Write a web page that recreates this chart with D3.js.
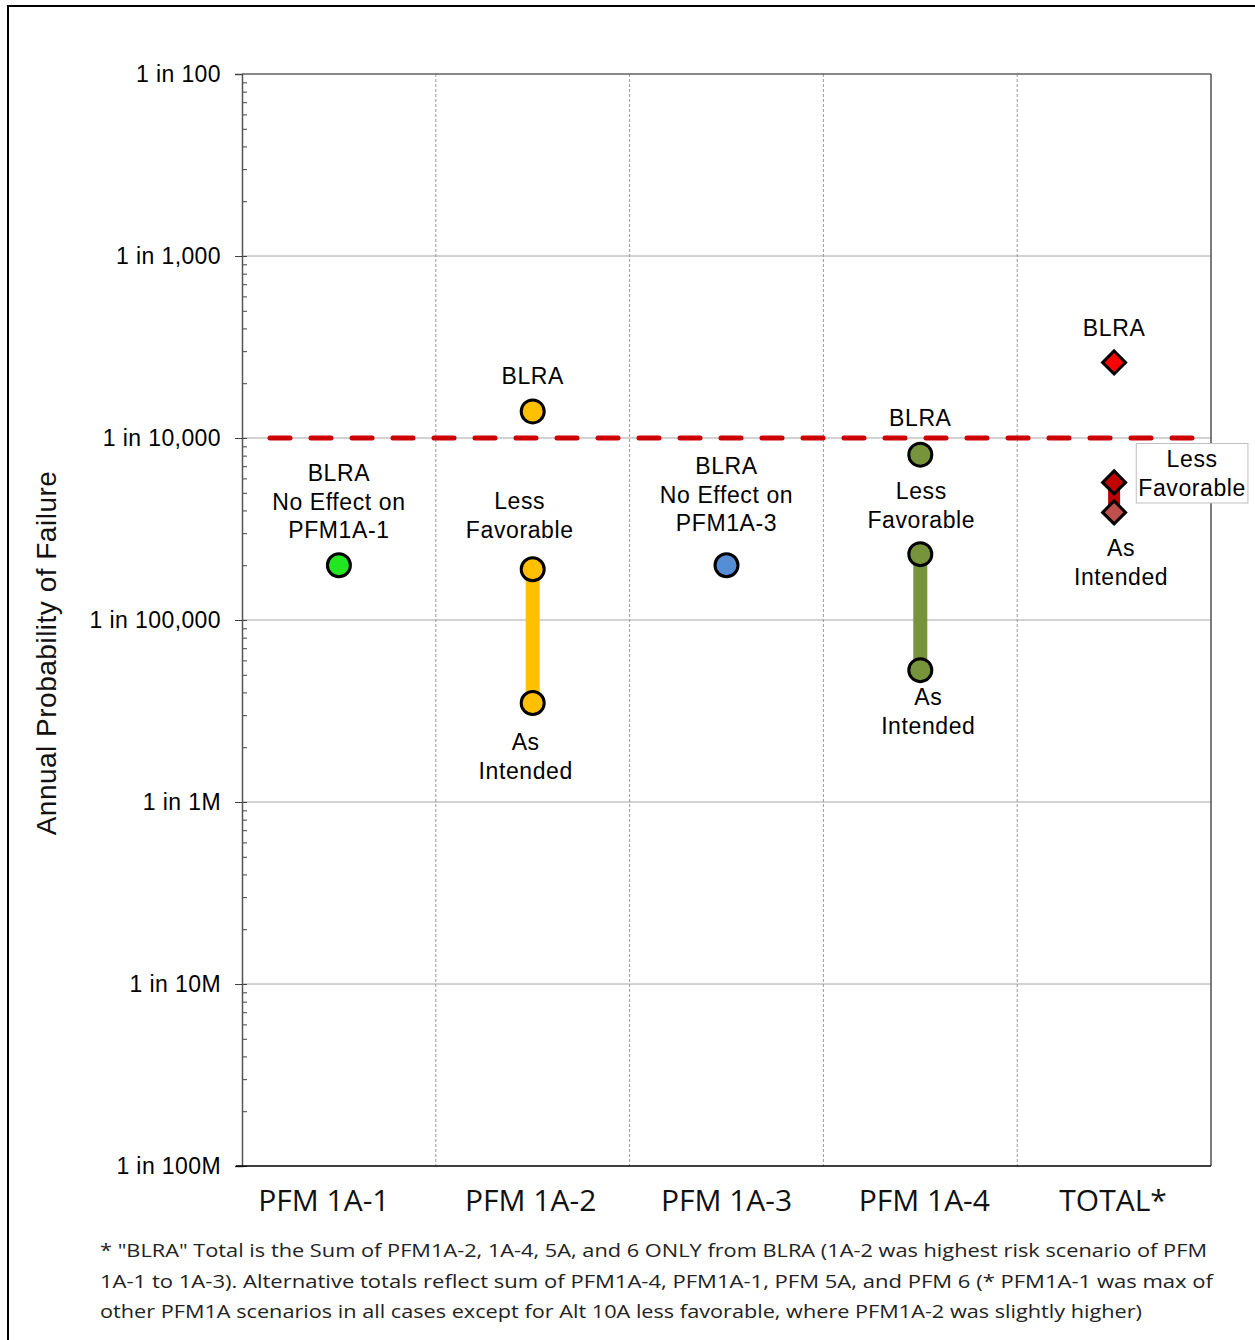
<!DOCTYPE html>
<html lang="en">
<head>
  <meta charset="UTF-8">
  <title>Annual Probability of Failure</title>
  <style>
    body { margin: 0; background: #fff; }
    svg { display: block; }
  </style>
  <script src="https://d3js.org/d3.v7.min.js"></script>
</head>
<body>
<script>
  // data
  var categories = ["PFM 1A-1", "PFM 1A-2", "PFM 1A-3", "PFM 1A-4", "TOTAL*"];
  var blra          = [2.0e-5, 1.4e-4, 2.0e-5, 8.1e-5, 2.6e-4];
  var lessFavorable = [null,   1.9e-5, null,   2.3e-5, 5.7e-5];
  var asIntended    = [null,   3.5e-6, null,   5.3e-6, 3.9e-5];
  var threshold = 1e-4;
  var tickValues = [1e-2, 1e-3, 1e-4, 1e-5, 1e-6, 1e-7, 1e-8];
  var tickLabels = ["1 in 100", "1 in 1,000", "1 in 10,000", "1 in 100,000", "1 in 1M", "1 in 10M", "1 in 100M"];
  var footnote = [
    "* \"BLRA\" Total is the Sum of PFM1A-2, 1A-4, 5A, and 6 ONLY from BLRA (1A-2 was highest risk scenario of PFM",
    "1A-1 to 1A-3). Alternative totals reflect sum of PFM1A-4, PFM1A-1, PFM 5A, and PFM 6 (* PFM1A-1 was max of",
    "other PFM1A scenarios in all cases except for Alt 10A less favorable, where PFM1A-2 was slightly higher)"
  ];

  // styling per category
  var fills = {
    blra: ["#22e622", "#ffc000", "#558ed5", "#77933c", "#ff0000"],
    less: [null, "#ffc000", null, "#77933c", "#c00000"],
    as:   [null, "#ffc000", null, "#77933c", "#c0504d"],
    bar:  [null, "#ffc000", null, "#77933c", "#c00000"]
  };
  var barWidth = [0, 14, 0, 14, 12];
  var shape = ["circle", "circle", "circle", "circle", "diamond"];

  // point labels: text lines and offsets from the point
  var labels = [
    { i: 0, s: "blra", lines: ["BLRA", "No Effect on", "PFM1A-1"], dx: 0, dy: -92 },
    { i: 1, s: "blra", lines: ["BLRA"], dx: 0, dy: -35 },
    { i: 1, s: "less", lines: ["Less", "Favorable"], dx: -13, dy: -68 },
    { i: 1, s: "as", lines: ["As", "Intended"], dx: -7, dy: 39 },
    { i: 2, s: "blra", lines: ["BLRA", "No Effect on", "PFM1A-3"], dx: 0, dy: -99 },
    { i: 3, s: "blra", lines: ["BLRA"], dx: 0, dy: -37 },
    { i: 3, s: "less", lines: ["Less", "Favorable"], dx: 1, dy: -63 },
    { i: 3, s: "as", lines: ["As", "Intended"], dx: 8, dy: 27 },
    { i: 4, s: "blra", lines: ["BLRA"], dx: 0, dy: -35 },
    { i: 4, s: "less", lines: ["Less", "Favorable"], dx: 78, dy: -23, box: true },
    { i: 4, s: "as", lines: ["As", "Intended"], dx: 7, dy: 36 }
  ];
  var catDx = [-15, -2, 0, 4, -1];

  var W = 1255, H = 1340;
  var plotL = 242, plotR = 1211, plotT = 74, plotB = 1166;
  var sans = "Liberation Sans, Arial, sans-serif";

  var svg = d3.select("body").append("svg")
    .attr("width", W)
    .attr("height", H);

  // outer frame
  svg.append("rect")
    .attr("x", 8).attr("y", 6)
    .attr("width", W + 10).attr("height", H + 10)
    .attr("fill", "none").attr("stroke", "#000").attr("stroke-width", 2);

  var x = d3.scaleBand().domain(categories).range([plotL, plotR]);
  var y = d3.scaleLog().domain([1e-2, 1e-8]).range([plotT, plotB]);

  function valueOf(s, i) {
    return s === "blra" ? blra[i] : s === "less" ? lessFavorable[i] : asIntended[i];
  }
  function cx(i) { return x(categories[i]) + x.bandwidth() / 2; }

  // horizontal grid
  svg.append("g").selectAll("line").data(tickValues.slice(1, -1)).join("line")
    .attr("x1", plotL).attr("x2", plotR)
    .attr("y1", function (d) { return y(d); }).attr("y2", function (d) { return y(d); })
    .attr("stroke", "#a6a6a6").attr("stroke-width", 1);

  // vertical dashed separators
  svg.append("g").selectAll("line").data(categories.slice(1)).join("line")
    .attr("x1", function (d) { return x(d); }).attr("x2", function (d) { return x(d); })
    .attr("y1", plotT).attr("y2", plotB)
    .attr("stroke", "#9a9a9a").attr("stroke-width", 1).attr("stroke-dasharray", "3,2");

  // plot border top / right
  svg.append("line").attr("x1", plotL).attr("x2", plotR).attr("y1", plotT).attr("y2", plotT)
    .attr("stroke", "#606060").attr("stroke-width", 1.5);
  svg.append("line").attr("x1", plotR).attr("x2", plotR).attr("y1", plotT).attr("y2", plotB)
    .attr("stroke", "#505050").attr("stroke-width", 1.5);

  // minor ticks (pointing inward)
  var minor = [];
  tickValues.slice(1).forEach(function (d) {
    for (var k = 1; k <= 9; k++) minor.push(d * k);
  });
  svg.append("g")
    .attr("transform", "translate(" + plotL + ",0)")
    .call(d3.axisRight(y).tickValues(minor).tickSize(5).tickFormat(""))
    .call(function (g) {
      g.select(".domain").remove();
      g.selectAll(".tick line").attr("stroke", "#404040");
    });

  // left axis with major ticks and labels
  svg.append("g")
    .attr("transform", "translate(" + plotL + ",0)")
    .call(d3.axisLeft(y).tickValues(tickValues).tickSize(7).tickPadding(14)
      .tickFormat(function (d, i) { return tickLabels[i]; }))
    .call(function (g) {
      g.select(".domain").attr("stroke", "#555").attr("stroke-width", 1.5);
      g.selectAll(".tick line").attr("stroke", "#404040");
      g.selectAll(".tick text")
        .attr("font-family", sans)
        .attr("font-size", 23).attr("letter-spacing", 0.4).attr("fill", "#000");
    });

  // bottom axis line
  svg.append("line").attr("x1", plotL - 6).attr("x2", plotR).attr("y1", plotB).attr("y2", plotB)
    .attr("stroke", "#000").attr("stroke-width", 1.5);

  // category labels
  svg.append("g").selectAll("text").data(categories).join("text")
    .attr("x", function (d, i) { return cx(i) + catDx[i]; })
    .attr("y", 1211)
    .attr("text-anchor", "middle")
    .attr("font-family", "Open Sans, sans-serif")
    .attr("font-size", 30)
    .attr("fill", "#111")
    .text(function (d) { return d; });

  // y axis title
  svg.append("text")
    .attr("transform", "translate(56,653) rotate(-90)")
    .attr("text-anchor", "middle")
    .attr("font-family", sans)
    .attr("font-size", 28)
    .attr("letter-spacing", 0.5)
    .attr("fill", "#111")
    .text("Annual Probability of Failure");

  // threshold line
  svg.append("line")
    .attr("x1", plotL + 28).attr("x2", plotR - 4)
    .attr("y1", y(threshold)).attr("y2", y(threshold))
    .attr("stroke", "#cc0000").attr("stroke-width", 5)
    .attr("stroke-dasharray", "20,21").attr("stroke-linecap", "round");

  // range bars
  var idx = d3.range(categories.length).filter(function (i) { return lessFavorable[i] != null; });
  svg.append("g").selectAll("line").data(idx).join("line")
    .attr("x1", cx).attr("x2", cx)
    .attr("y1", function (i) { return y(lessFavorable[i]); })
    .attr("y2", function (i) { return y(asIntended[i]); })
    .attr("stroke", function (i) { return fills.bar[i]; })
    .attr("stroke-width", function (i) { return barWidth[i]; });

  // markers
  var points = [];
  categories.forEach(function (c, i) {
    ["blra", "less", "as"].forEach(function (s) {
      var v = valueOf(s, i);
      if (v != null) points.push({ i: i, s: s, v: v });
    });
  });
  var mk = svg.append("g").selectAll("g").data(points).join("g")
    .attr("transform", function (d) { return "translate(" + cx(d.i) + "," + y(d.v) + ")"; });
  mk.filter(function (d) { return shape[d.i] === "circle"; })
    .append("circle").attr("r", 11.5)
    .attr("fill", function (d) { return fills[d.s][d.i]; })
    .attr("stroke", "#000").attr("stroke-width", 3);
  mk.filter(function (d) { return shape[d.i] === "diamond"; })
    .append("path").attr("d", "M0,-11.5L11.5,0L0,11.5L-11.5,0Z")
    .attr("fill", function (d) { return fills[d.s][d.i]; })
    .attr("stroke", "#000").attr("stroke-width", 3).attr("stroke-linejoin", "miter");

  // point labels
  labels.forEach(function (l) {
    var px = cx(l.i) + l.dx, py = y(valueOf(l.s, l.i)) + l.dy;
    var g = svg.append("g");
    var box = l.box ? g.append("rect") : null;
    var t = g.append("text")
      .attr("text-anchor", "middle")
      .attr("font-family", sans)
      .attr("font-size", 23)
      .attr("letter-spacing", 0.6)
      .attr("fill", "#000");
    l.lines.forEach(function (line, k) {
      t.append("tspan").attr("x", px).attr("y", py + k * 28.5).attr("dy", "0.35em").text(line);
    });
    if (box) {
      var b = t.node().getBBox();
      box.attr("x", b.x - 2).attr("y", b.y - 3)
        .attr("width", b.width + 4).attr("height", b.height + 5)
        .attr("fill", "#fff").attr("stroke", "#bfbfbf").attr("stroke-width", 1);
    }
  });

  // footnote
  var fw = [1107, 1113, 1042];
  svg.append("g").selectAll("text").data(footnote).join("text")
    .attr("x", 100)
    .attr("y", function (d, i) { return 1257 + i * 30.5; })
    .attr("font-family", "Open Sans, sans-serif")
    .attr("font-size", 19)
    .attr("fill", "#222")
    .attr("textLength", function (d, i) { return fw[i]; })
    .attr("lengthAdjust", "spacingAndGlyphs")
    .text(function (d) { return d; });
</script>
</body>
</html>
